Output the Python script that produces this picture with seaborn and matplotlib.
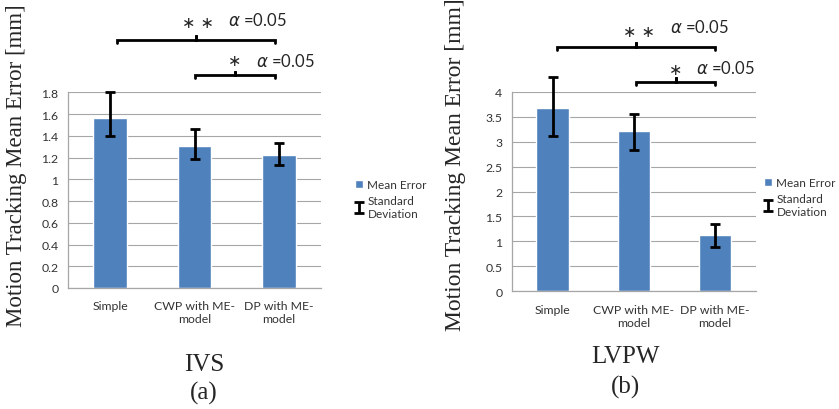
import numpy as np
import matplotlib.pyplot as plt
import seaborn as sns
from matplotlib.patches import Patch

# ============================ DATA ============================

categories = ['Simple', 'CWP with ME-\nmodel', 'DP with ME-\nmodel']

ivs_mean = [1.56, 1.31, 1.22]
ivs_sd_low = [1.40, 1.19, 1.13]
ivs_sd_high = [1.80, 1.46, 1.33]

lvpw_mean = [3.67, 3.21, 1.13]
lvpw_sd_low = [3.11, 2.83, 0.89]
lvpw_sd_high = [4.29, 3.55, 1.34]

ylabel = 'Motion Tracking Mean Error [mm]'
alpha_label = r'$\alpha$ =0.05'

# ============================ STYLE ============================

sns.set_style('white')
plt.rcParams['font.family'] = ['Lato', 'DejaVu Sans']

BAR_COLOR = '#4F81BD'
GRID_COLOR = '#A6A6A6'
TEXT_COLOR = '#333333'
SERIF = 'Liberation Serif'
W, H = 839, 410

fig = plt.figure(figsize=(W / 100, H / 100), dpi=100)


def px_axes(x0, x1, y_top, y_bot):
    return fig.add_axes([x0 / W, 1 - y_bot / H, (x1 - x0) / W, (y_bot - y_top) / H])


def draw_panel(ax, mean, lo, hi, ymax, ystep):
    sns.barplot(x=categories, y=mean, color=BAR_COLOR, saturation=1, width=0.4, ax=ax)
    pos = np.arange(len(categories))
    yerr = [np.array(mean) - np.array(lo), np.array(hi) - np.array(mean)]
    eb = ax.errorbar(pos, mean, yerr=yerr, fmt='none', ecolor='black', elinewidth=2,
                     capsize=3.5, capthick=2, label='Standard\nDeviation')
    for cl in eb.lines[1]:
        cl.set_clip_on(False)
    for lc in eb.lines[2]:
        lc.set_clip_on(False)

    ax.set_xlim(-0.5, 2.5)
    ax.set_ylim(0, ymax)
    ticks = np.arange(0, ymax + ystep / 2, ystep)
    ax.set_yticks(ticks)
    ax.set_yticklabels([f'{v:g}' for v in ticks])
    ax.yaxis.grid(True, color=GRID_COLOR, linewidth=0.8)
    ax.set_axisbelow(True)

    ax.set_xticks([-0.5, 0.5, 1.5, 2.5])
    ax.set_xticklabels([])
    ax.set_xticks(pos, minor=True)
    ax.set_xticklabels(categories, minor=True)
    ax.tick_params(axis='x', which='major', length=3, color=GRID_COLOR, direction='out')
    ax.tick_params(axis='x', which='minor', length=0, pad=9, labelsize=8.8, colors=TEXT_COLOR)
    ax.tick_params(axis='y', length=3, color=GRID_COLOR, labelsize=8.8, colors=TEXT_COLOR, pad=4)
    ax.set_xlabel('')
    ax.set_ylabel('')

    for side in ['top', 'right']:
        ax.spines[side].set_visible(False)
    for side in ['bottom', 'left']:
        ax.spines[side].set_color(GRID_COLOR)
        ax.spines[side].set_linewidth(0.9)
    return eb


def bracket(ax, x0, x1, y, drop, tick):
    xm = (x0 + x1) / 2
    ax.plot([x0, x0, xm, xm, xm, x1, x1], [y - drop, y, y, y + tick, y, y, y - drop],
            color='black', linewidth=2, clip_on=False, solid_joinstyle='miter')


def star(ax, x, y, s):
    ax.text(x, y, s, ha='center', va='center', fontsize=11.5, family='DejaVu Sans')


def legend(ax, eb, x, y):
    handles = [Patch(facecolor=BAR_COLOR, label='Mean Error'), eb]
    leg = ax.legend(handles=handles, labels=['Mean Error', 'Standard\nDeviation'],
                    loc='upper left', bbox_to_anchor=(x / W, 1 - y / H),
                    bbox_transform=fig.transFigure, frameon=False, borderpad=0,
                    borderaxespad=0, handlelength=0.7, handleheight=0.7,
                    handletextpad=0.35, labelspacing=0.45, fontsize=8.5)
    for t in leg.get_texts():
        t.set_color(TEXT_COLOR)


# ============================ PANEL (a) IVS ============================

ax1 = px_axes(68, 321, 93.3, 289)
eb1 = draw_panel(ax1, ivs_mean, ivs_sd_low, ivs_sd_high, 1.8, 0.2)
bracket(ax1, 0.08, 1.95, 2.28, 0.025, 0.045)
bracket(ax1, 1.0, 1.95, 1.955, 0.025, 0.045)
star(ax1, 1.04, 2.44, '\u2217 \u2217')
ax1.text(1.75, 2.47, alpha_label, ha='center', va='center', fontsize=12)
star(ax1, 1.48, 2.09, '\u2217')
ax1.text(2.08, 2.09, alpha_label, ha='center', va='center', fontsize=12)
legend(ax1, eb1, 355, 180)

fig.text(17 / W, 1 - 166 / H, ylabel, rotation=90, ha='center', va='center',
         family=SERIF, fontsize=16.5)
fig.text(204 / W, 1 - 365 / H, 'IVS', ha='center', va='center', family=SERIF, fontsize=18)
fig.text(204 / W, 1 - 393 / H, '(a)', ha='center', va='center', family=SERIF, fontsize=18)

# ============================ PANEL (b) LVPW ============================

ax2 = px_axes(512, 755.7, 92.7, 292.3)
eb2 = draw_panel(ax2, lvpw_mean, lvpw_sd_low, lvpw_sd_high, 4, 0.5)
bracket(ax2, 0.05, 2.0, 4.89, 0.05, 0.1)
bracket(ax2, 1.03, 2.0, 4.19, 0.05, 0.1)
star(ax2, 1.06, 5.20, '\u2217 \u2217')
ax2.text(1.80, 5.31, alpha_label, ha='center', va='center', fontsize=12)
star(ax2, 1.51, 4.45, '\u2217')
ax2.text(2.13, 4.49, alpha_label, ha='center', va='center', fontsize=12)
legend(ax2, eb2, 764, 178)

fig.text(456 / W, 1 - 165 / H, ylabel, rotation=90, ha='center', va='center',
         family=SERIF, fontsize=17)
fig.text(625 / W, 1 - 357 / H, 'LVPW', ha='center', va='center', family=SERIF, fontsize=18)
fig.text(626 / W, 1 - 387 / H, '(b)', ha='center', va='center', family=SERIF, fontsize=18)

fig.savefig('out.png', dpi=100)
